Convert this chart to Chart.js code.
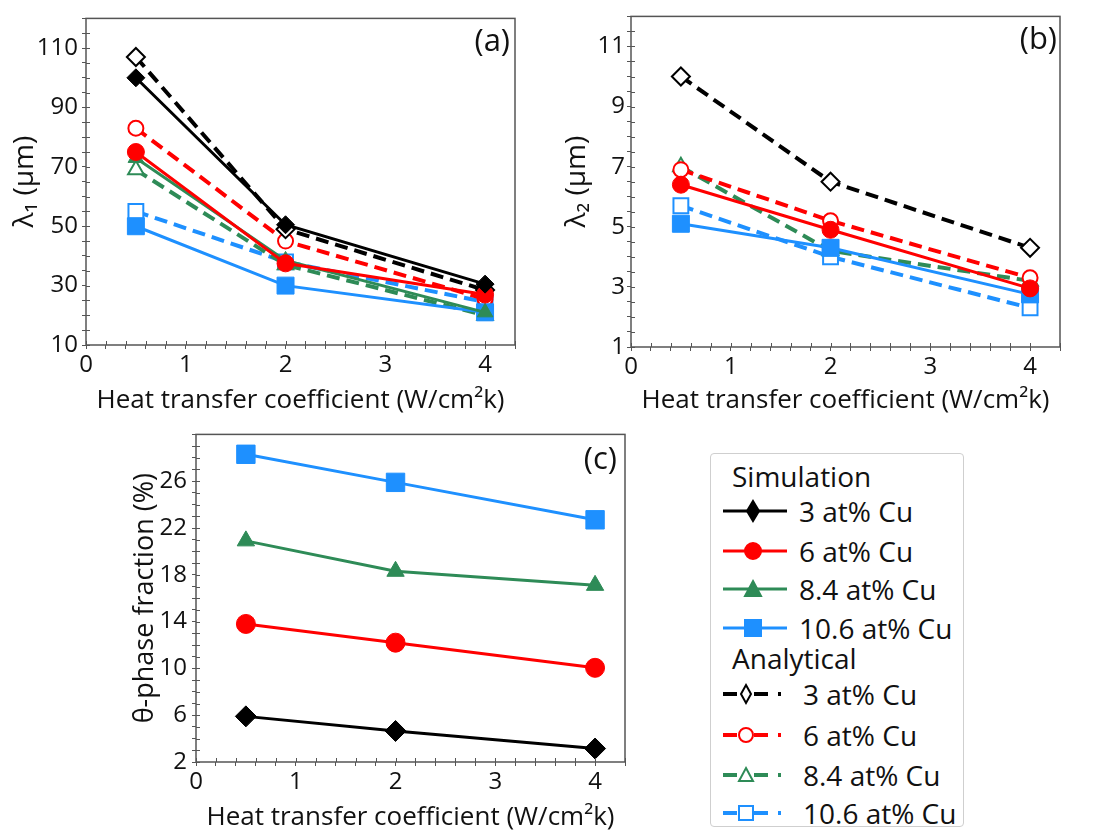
<!DOCTYPE html>
<html>
<head>
<meta charset="utf-8">
<script src="https://cdn.jsdelivr.net/npm/chart.js@4.4.1/dist/chart.umd.min.js"></script>
<style>
  body { margin: 0; background: #fff; width: 1099px; height: 833px; position: relative; overflow: hidden; font-family: "Open Sans", sans-serif; }
  canvas { position: absolute; }
  #legendBox { position: absolute; left: 710px; top: 453px; width: 254px; height: 374px; border: 1px solid #cfcfcf; border-radius: 4px; box-sizing: border-box; }
  .lg-row { position: absolute; left: 0; height: 36px; display: flex; align-items: center; font-size: 28px; color: #111; white-space: nowrap; }
  .lg-row svg { margin-right: 10px; }
  .lg-head { position: absolute; left: 21px; font-size: 28px; color: #111; line-height: 34px; }
</style>
</head>
<body>
<canvas id="chartA" width="545" height="420" style="left:0;top:0"></canvas>
<canvas id="chartB" width="554" height="420" style="left:545px;top:0"></canvas>
<canvas id="chartC" width="560" height="418" style="left:110px;top:415px"></canvas>
<div id="legendBox"></div>

<script>
// x positions: heat transfer coefficient (W/cm^2 k)
const hCoeff = [0.5, 2, 4];

// series names
const cuLabels = ['3 at% Cu', '6 at% Cu', '8.4 at% Cu', '10.6 at% Cu'];

// (a) lambda1 in um
const lam1Sim3 = [100, 50.5, 30.5];
const lam1Sim6 = [75, 37.5, 27];
const lam1Sim84 = [73, 38.5, 21];
const lam1Sim106 = [50, 30, 21];
const lam1Ana3 = [107, 49, 28.5];
const lam1Ana6 = [83, 45, 25.5];
const lam1Ana84 = [69, 37, 20];
const lam1Ana106 = [55, 38, 24.5];

// (b) lambda2 in um
const lam2Sim6 = [6.4, 4.9, 2.95];
const lam2Sim106 = [5.1, 4.3, 2.75];
const lam2Ana3 = [10, 6.5, 4.3];
const lam2Ana6 = [6.9, 5.2, 3.3];
const lam2Ana84 = [7.0, 4.2, 3.2];
const lam2Ana106 = [5.7, 4.0, 2.3];

// (c) theta-phase fraction in %
const theta3 = [5.9, 4.65, 3.15];
const theta6 = [13.8, 12.2, 10.05];
const theta84 = [20.9, 18.3, 17.1];
const theta106 = [28.3, 25.9, 22.7];

// tick labels shown
const xTickLabels = [0, 1, 2, 3, 4];
const yTicksA = [10, 30, 50, 70, 90, 110];
const yTicksB = [1, 3, 5, 7, 9, 11];
const yTicksC = [2, 6, 10, 14, 18, 22, 26];

const colors = ['#000000', '#ff0000', '#2e8b57', '#1e90ff'];
const shapes = ['rectRot', 'circle', 'triangle', 'rect'];
// marker radius per shape (chart.js rect is smaller for the same radius)
const simRadius = [9, 8.5, 9, 12];
const bigRadius = [10.5, 9.5, 10, 13];
const anaRadius = [9, 7.5, 9, 10.5];
const FONT = '"Open Sans", sans-serif';

function pts(vals) {
  return hCoeff.map((h, i) => ({ x: h, y: vals[i] }));
}

function sim(vals, k, big) {
  return {
    data: pts(vals),
    borderColor: colors[k], backgroundColor: colors[k],
    pointBackgroundColor: colors[k], pointBorderColor: colors[k],
    pointStyle: shapes[k], pointRadius: big ? bigRadius[k] : simRadius[k], pointBorderWidth: 1,
    borderWidth: 3, tension: 0
  };
}

function ana(vals, k) {
  return {
    data: pts(vals),
    borderColor: colors[k], backgroundColor: '#fff',
    pointBackgroundColor: '#fff', pointBorderColor: colors[k],
    pointStyle: shapes[k], pointRadius: anaRadius[k], pointBorderWidth: 2,
    borderWidth: 4, borderDash: [13, 7], tension: 0
  };
}

// frame, inward ticks and panel letter
const framePlugin = {
  id: 'frame',
  afterDraw(chart, args, opts) {
    const { ctx, chartArea: a, scales } = chart;
    ctx.save();
    ctx.strokeStyle = '#555';
    ctx.lineWidth = 1.5;
    ctx.strokeRect(a.left, a.top, a.width, a.height);
    ctx.lineWidth = 1;
    scales.x.ticks.forEach(t => {
      const px = Math.round(scales.x.getPixelForValue(t.value)) + 0.5;
      ctx.beginPath(); ctx.moveTo(px, a.bottom); ctx.lineTo(px, a.bottom - 4); ctx.stroke();
    });
    scales.y.ticks.forEach(t => {
      const py = Math.round(scales.y.getPixelForValue(t.value)) + 0.5;
      ctx.beginPath(); ctx.moveTo(a.left, py); ctx.lineTo(a.left + 4, py); ctx.stroke();
    });
    ctx.fillStyle = '#111';
    ctx.font = '31px ' + FONT;
    ctx.textAlign = 'right';
    ctx.textBaseline = 'top';
    ctx.fillText(opts.text, a.right - opts.dx, a.top + opts.dy);
    ctx.restore();
  }
};

function makeChart(id, datasets, cfg) {
  return new Chart(document.getElementById(id), {
    type: 'line',
    data: { datasets: datasets },
    plugins: [framePlugin],
    options: {
      responsive: false,
      animation: false,
      layout: { padding: { top: cfg.top, right: cfg.right, left: 0, bottom: 0 } },
      plugins: {
        legend: { display: false },
        tooltip: { enabled: false },
        frame: { text: cfg.letter, dx: cfg.letterDx, dy: cfg.letterDy }
      },
      scales: {
        x: {
          type: 'linear', min: 0, max: 4.3,
          afterFit: s => { s.height = cfg.xh; },
          border: { display: false },
          grid: { drawOnChartArea: false, drawTicks: true, tickLength: 4, color: '#555' },
          ticks: {
            stepSize: 0.2, autoSkip: false, maxRotation: 0, padding: cfg.xpad,
            color: '#111', font: { family: FONT, size: 24 },
            callback: v => {
              const r = Math.round(v);
              return (Math.abs(v - r) < 1e-6 && xTickLabels.includes(r)) ? String(r) : '';
            }
          },
          title: {
            display: true, text: 'Heat transfer coefficient (W/cm²k)',
            color: '#111', font: { family: FONT, size: 26 },
            padding: { top: 0, bottom: cfg.xtpad }
          }
        },
        y: {
          min: cfg.ymin, max: cfg.ymax,
          afterFit: s => { s.width = 86; },
          border: { display: false },
          grid: { drawOnChartArea: false, drawTicks: true, tickLength: 4, color: '#555' },
          ticks: {
            stepSize: cfg.ystep, autoSkip: false, padding: cfg.ypad,
            color: '#111', font: { family: FONT, size: 24 },
            callback: v => {
              const hit = cfg.yLabels.find(l => Math.abs(l - v) < 1e-6);
              return hit !== undefined ? String(hit) : '';
            }
          },
          title: {
            display: true, text: cfg.ytitle,
            color: '#111', font: { family: FONT, size: cfg.ytsize },
            padding: { top: cfg.ytpad, bottom: 0 }
          }
        }
      }
    }
  });
}

makeChart('chartA', [
  sim(lam1Sim3, 0), sim(lam1Sim6, 1), sim(lam1Sim84, 2), sim(lam1Sim106, 3),
  ana(lam1Ana3, 0), ana(lam1Ana6, 1), ana(lam1Ana84, 2), ana(lam1Ana106, 3)
], {
  top: 10, right: 30, xh: 75, xpad: 2, xtpad: 4,
  ymin: 10, ymax: 120, ystep: 5, yLabels: yTicksA, ypad: 4,
  ytitle: 'λ₁ (μm)', ytsize: 28, ytpad: 8, letter: '(a)', letterDx: 5, letterDy: 8
});

makeChart('chartB', [
  sim(lam2Sim6, 1), sim(lam2Sim106, 3),
  ana(lam2Ana3, 0), ana(lam2Ana6, 1), ana(lam2Ana84, 2), ana(lam2Ana106, 3)
], {
  top: 10, right: 39, xh: 73, xpad: 2, xtpad: 4,
  ymin: 1, ymax: 12, ystep: 0.5, yLabels: yTicksB, ypad: 2,
  ytitle: 'λ₂ (μm)', ytsize: 28, ytpad: 15, letter: '(b)', letterDx: 3, letterDy: 8
});

makeChart('chartC', [
  sim(theta3, 0, true), sim(theta6, 1, true), sim(theta84, 2, true), sim(theta106, 3, true)
], {
  top: 11, right: 45, xh: 71, xpad: 2, xtpad: 0,
  ymin: 2, ymax: 30, ystep: 1, yLabels: yTicksC, ypad: 5,
  ytitle: 'θ-phase fraction (%)', ytsize: 27, ytpad: 19, letter: '(c)', letterDx: 8, letterDy: 10
});

// legend (HTML text, svg swatches)
function markerSvg(k, filled) {
  const c = colors[k], f = filled ? c : '#fff', cx = filled ? 30 : 23, cy = 18;
  const r = filled ? 8 : 7;
  let shape = '';
  if (k === 0) shape = `<polygon points="${cx},${cy - r - 2} ${cx + r - 2},${cy} ${cx},${cy + r + 2} ${cx - r + 2},${cy}" fill="${f}" stroke="${c}" stroke-width="2"/>`;
  if (k === 1) shape = `<circle cx="${cx}" cy="${cy}" r="${r}" fill="${f}" stroke="${c}" stroke-width="2"/>`;
  if (k === 2) shape = `<polygon points="${cx},${cy - r} ${cx + r},${cy + r - 1} ${cx - r},${cy + r - 1}" fill="${f}" stroke="${c}" stroke-width="2"/>`;
  if (k === 3) shape = `<rect x="${cx - r}" y="${cy - r}" width="${2 * r}" height="${2 * r}" fill="${f}" stroke="${c}" stroke-width="2"/>`;
  let line;
  if (filled) {
    line = `<line x1="0" y1="${cy}" x2="64" y2="${cy}" stroke="${c}" stroke-width="3"/>`;
  } else {
    line = `<line x1="0" y1="${cy}" x2="14" y2="${cy}" stroke="${c}" stroke-width="4"/>` +
           `<line x1="31" y1="${cy}" x2="45" y2="${cy}" stroke="${c}" stroke-width="4"/>` +
           `<line x1="55" y1="${cy}" x2="58" y2="${cy}" stroke="${c}" stroke-width="4"/>`;
  }
  return `<svg width="66" height="36">${line}${shape}</svg>`;
}

const box = document.getElementById('legendBox');
const simRows = [57, 97, 135, 174];
const anaRows = [240, 281, 321, 359];
let html = '<div class="lg-head" style="top:5px">Simulation</div>';
cuLabels.forEach((lab, k) => {
  html += `<div class="lg-row" style="left:12px;top:${simRows[k] - 18}px">${markerSvg(k, true)}<span>${lab}</span></div>`;
});
html += '<div class="lg-head" style="top:187px">Analytical</div>';
cuLabels.forEach((lab, k) => {
  html += `<div class="lg-row" style="left:12px;top:${anaRows[k] - 18}px">${markerSvg(k, false)}<span style="margin-left:4px">${lab}</span></div>`;
});
box.innerHTML = html;
</script>
</body>
</html>
